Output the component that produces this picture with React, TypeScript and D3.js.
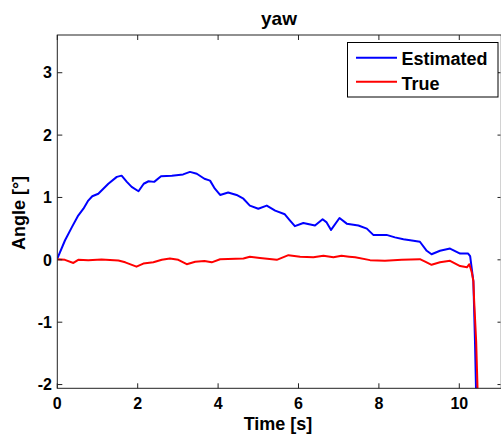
import React from "react";
import * as d3 from "d3";

const estT = [0,0.19,0.36,0.52,0.65,0.77,0.87,1.02,1.27,1.48,1.60,1.73,1.85,2.02,2.15,2.27,2.41,2.58,2.85,3.13,3.30,3.47,3.66,3.80,3.92,4.05,4.25,4.46,4.63,4.79,5.0,5.21,5.42,5.66,5.79,5.91,6.12,6.41,6.60,6.70,6.81,7.02,7.20,7.49,7.70,7.86,8.19,8.40,8.61,8.82,9.02,9.19,9.31,9.52,9.77,10.02,10.22,10.27,10.35,10.39,10.42];
const estY = [0.02,0.31,0.52,0.71,0.82,0.95,1.02,1.06,1.22,1.33,1.35,1.25,1.17,1.10,1.22,1.26,1.25,1.34,1.35,1.37,1.41,1.38,1.30,1.27,1.14,1.04,1.08,1.04,0.98,0.87,0.82,0.87,0.79,0.73,0.63,0.54,0.59,0.55,0.65,0.60,0.48,0.67,0.58,0.55,0.50,0.40,0.40,0.36,0.33,0.31,0.29,0.145,0.09,0.145,0.18,0.10,0.10,0.06,-0.34,-1.3,-2.2];

const trueT = [0,0.19,0.40,0.52,0.77,1.1,1.52,1.69,1.97,2.14,2.39,2.60,2.80,3.01,3.22,3.43,3.66,3.84,4.05,4.63,4.79,5.04,5.46,5.75,6.04,6.37,6.62,6.87,7.07,7.26,7.41,7.78,8.15,8.57,9.02,9.15,9.31,9.52,9.77,10.02,10.19,10.25,10.31,10.35,10.37,10.42,10.46];
const trueY = [0.01,0.0,-0.05,0.0,-0.005,0.005,-0.01,-0.04,-0.11,-0.06,-0.04,0.0,0.02,0.0,-0.07,-0.03,-0.02,-0.04,0.01,0.02,0.05,0.03,0.0,0.075,0.05,0.04,0.065,0.04,0.065,0.05,0.04,-0.005,-0.015,0.0,0.01,-0.03,-0.08,-0.04,-0.015,-0.1,-0.12,-0.07,-0.2,-0.34,-0.66,-1.31,-2.2];

const xTicks = [0, 2, 4, 6, 8, 10];
const yTicks = [-2, -1, 0, 1, 2, 3];
const seriesNames = ["Estimated", "True"];
const seriesColors = ["#0000ff", "#ff0000"];

const W = 501, H = 435;
const L = 57.3, R = 501.3, T = 35, B = 388.3;
const FONT = "'Liberation Sans', Arial, sans-serif";

export default function App() {
  const x = d3.scaleLinear().domain([0, 11.045]).range([L, R]);
  const y = d3.scaleLinear().domain([-2.06, 3.605]).range([B, T]);
  const line = d3.line<[number, number]>().x(d => x(d[0])).y(d => y(d[1]));
  const est: [number, number][] = estT.map((t, i) => [t, estY[i]]);
  const tru: [number, number][] = trueT.map((t, i) => [t, trueY[i]]);
  const tick = 5;
  const axisColor = "#222";
  const tickR = 500.5;
  return (
    <svg width={W} height={H} style={{ position: "absolute", left: 0, top: 0, background: "#fff" }} fontFamily={FONT}>
      <rect x={0} y={0} width={W} height={H} fill="#fff" />
      <defs>
        <clipPath id="plotclip">
          <rect x={L} y={T} width={R - L} height={B - T} />
        </clipPath>
      </defs>
      <g clipPath="url(#plotclip)">
        <path d={line(est) || ""} fill="none" stroke={seriesColors[0]} strokeWidth={2} strokeLinejoin="round" />
        <path d={line(tru) || ""} fill="none" stroke={seriesColors[1]} strokeWidth={2} strokeLinejoin="round" />
      </g>
      <rect x={L} y={T} width={R - L} height={B - T} fill="none" stroke={axisColor} strokeWidth={1} />
      {xTicks.map(t => (
        <g key={"x" + t}>
          <line x1={x(t)} x2={x(t)} y1={B} y2={B - tick} stroke={axisColor} />
          <line x1={x(t)} x2={x(t)} y1={T} y2={T + tick} stroke={axisColor} />
          <text x={x(t)} y={409} textAnchor="middle" fontSize={16} fontWeight="bold" fill="#000">{t}</text>
        </g>
      ))}
      {yTicks.map(t => (
        <g key={"y" + t}>
          <line x1={L} x2={L + tick} y1={y(t)} y2={y(t)} stroke={axisColor} />
          <line x1={tickR} x2={tickR - 3} y1={y(t)} y2={y(t)} stroke={axisColor} />
          <text x={52} y={y(t)} dy="0.36em" textAnchor="end" fontSize={16} fontWeight="bold" fill="#000">{t}</text>
        </g>
      ))}
      <text x={279} y={25} textAnchor="middle" fontSize={19} fontWeight="bold" fill="#000">yaw</text>
      <text x={278} y={430} textAnchor="middle" fontSize={18} fontWeight="bold" fill="#000">Time [s]</text>
      <text transform={`translate(25,213) rotate(-90)`} textAnchor="middle" fontSize={18} fontWeight="bold" fill="#000">Angle [°]</text>
      <rect x={347.5} y={42.5} width={150.5} height={54.5} fill="#fff" stroke="#000" strokeWidth={1} />
      {seriesNames.map((n, i) => (
        <g key={n}>
          <line x1={356} x2={397} y1={57.7 + i * 24} y2={57.7 + i * 24} stroke={seriesColors[i]} strokeWidth={2} />
          <text x={401.5} y={65 + i * 25} fontSize={18} fontWeight="bold" fill="#000">{n}</text>
        </g>
      ))}
    </svg>
  );
}
